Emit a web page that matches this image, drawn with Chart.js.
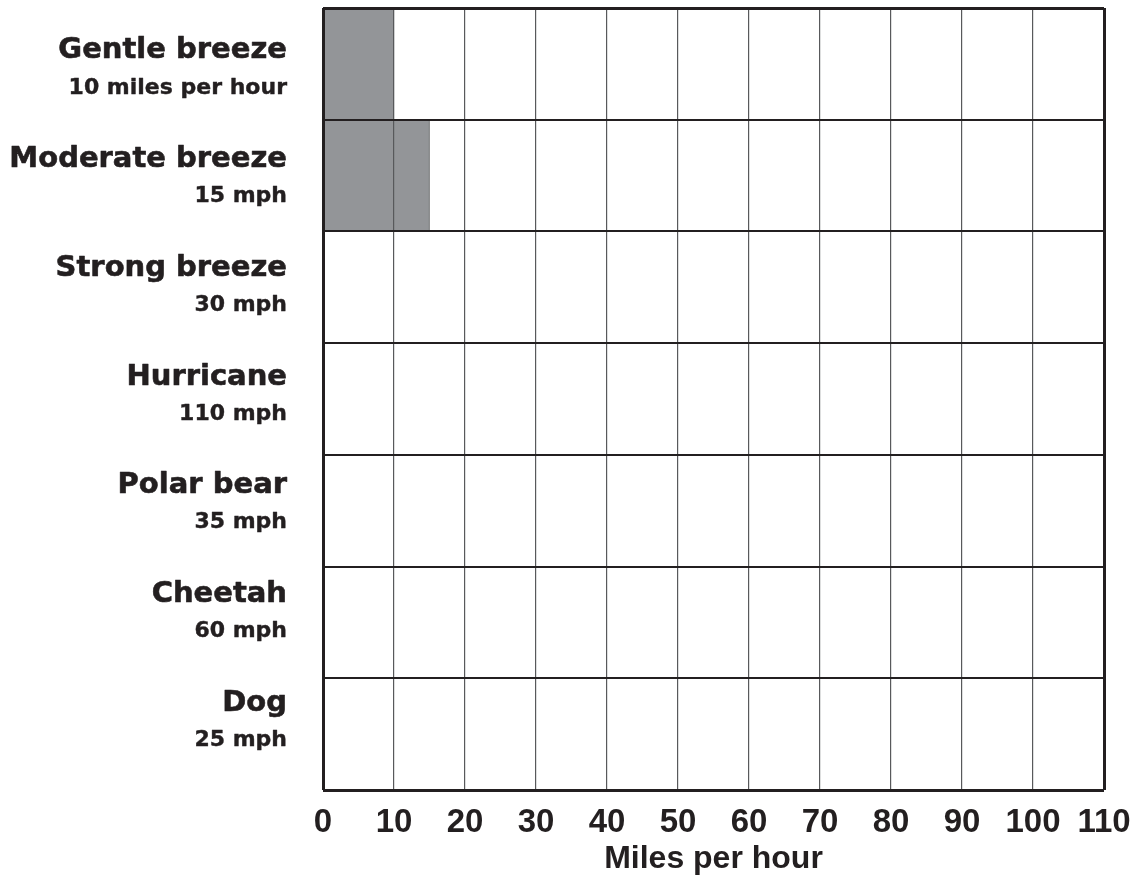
<!DOCTYPE html>
<html>
<head>
<meta charset="utf-8">
<script src="https://cdn.jsdelivr.net/npm/chart.js@4"></script>
<style>
  html, body { margin: 0; padding: 0; background: #ffffff; }
  #wrap { width: 1145px; height: 878px; }
</style>
</head>
<body>
<div id="wrap"><canvas id="speed-chart" width="1145" height="878"></canvas></div>
<script>
// categories and the speed shown under each name
const categories = ['Gentle breeze', 'Moderate breeze', 'Strong breeze', 'Hurricane', 'Polar bear', 'Cheetah', 'Dog'];
const speedLabels = ['10 miles per hour', '15 mph', '30 mph', '110 mph', '35 mph', '60 mph', '25 mph'];
// only the first two rows are shaded in, the rest are left blank
const shadedValues = [10, 15, null, null, null, null, null];
const xMin = 0;
const xMax = 110;
const xStep = 10;

const ink = '#231f20';

// draws the two line row labels (name + speed) next to each row
const rowLabels = {
    id: 'rowLabels',
    afterDraw(chart) {
        const ctx = chart.ctx;
        const yScale = chart.scales.y;
        const right = chart.chartArea.left - 36;
        ctx.save();
        ctx.fillStyle = ink;
        ctx.strokeStyle = ink;
        ctx.lineJoin = 'round';
        ctx.textAlign = 'right';
        ctx.textBaseline = 'middle';
        categories.forEach((name, i) => {
            // labels sit a little tighter than the rows, so they drift up slowly
            const y = yScale.getPixelForValue(i) - 13 - i * 3;
            ctx.font = 'bold 29px "DejaVu Sans"';
            ctx.lineWidth = 0.6;
            ctx.fillText(name, right, y);
            ctx.strokeText(name, right, y);
            ctx.font = 'bold 22px "DejaVu Sans"';
            ctx.lineWidth = 0.4;
            ctx.fillText(speedLabels[i], right, y + 37);
            ctx.strokeText(speedLabels[i], right, y + 37);
        });
        ctx.restore();
    }
};

const ctx = document.getElementById('speed-chart').getContext('2d');

new Chart(ctx, {
    type: 'bar',
    data: {
        labels: categories,
        datasets: [{
            label: 'Speed',
            data: shadedValues,
            backgroundColor: '#939598',
            borderColor: '#58595b',
            borderWidth: 1,
            barPercentage: 1,
            categoryPercentage: 1
        }]
    },
    options: {
        indexAxis: 'y',
        responsive: false,
        animation: false,
        layout: {
            padding: { left: 323, right: 41, top: 8, bottom: 0 }
        },
        plugins: {
            legend: { display: false },
            tooltip: { enabled: false }
        },
        scales: {
            x: {
                min: xMin,
                max: xMax,
                afterFit: scale => { scale.height = 88; },
                border: { display: false },
                grid: {
                    z: 1,
                    drawTicks: false,
                    color: c => (c.tick && (c.tick.value === xMin || c.tick.value === xMax)) ? ink : '#58595b',
                    lineWidth: c => (c.tick && (c.tick.value === xMin || c.tick.value === xMax)) ? 3 : 1.2
                },
                ticks: {
                    stepSize: xStep,
                    padding: 13,
                    color: ink,
                    font: { family: '"Liberation Sans", Arial, sans-serif', weight: 'bold', size: 33 }
                },
                title: {
                    display: true,
                    text: 'Miles per hour',
                    color: ink,
                    padding: { top: 0, bottom: 0 },
                    font: { family: '"Liberation Sans", Arial, sans-serif', weight: 'bold', size: 32 }
                }
            },
            y: {
                afterFit: scale => { scale.width = 0; },
                border: { display: false },
                grid: {
                    z: 1,
                    offset: true,
                    drawTicks: false,
                    color: ink,
                    lineWidth: c => (c.type === 'tick' && c.index > 0) ? 2 : 3
                },
                ticks: { display: false }
            }
        }
    },
    plugins: [rowLabels]
});
</script>
</body>
</html>
